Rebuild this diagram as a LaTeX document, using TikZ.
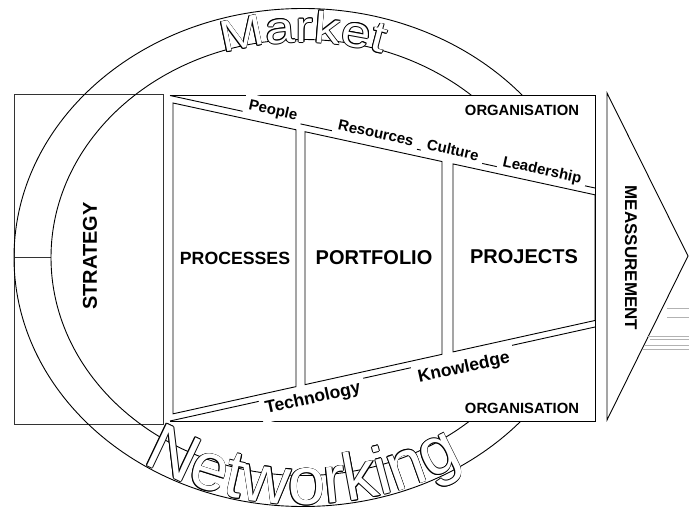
\documentclass[tikz,border=0pt]{standalone}
\usepackage{fontspec}
\setmainfont{Liberation Sans}
\newfontfamily\ringfont{Liberation Sans}
\newfontfamily\marketfont[FakeStretch=1.2]{Liberation Sans}
\usetikzlibrary{decorations.text}
\begin{document}
\begin{tikzpicture}[x=1pt,y=-1pt,line width=0.9pt,
  tag/.style={fill=white,inner sep=5pt,font=\bfseries\fontsize{15}{15}\selectfont},
  lowtag/.style={tag,font=\bfseries\fontsize{17.5}{17.5}\selectfont},
  org/.style={font=\bfseries\fontsize{14.8}{14.8}\selectfont},
  big/.style={font=\bfseries\fontsize{20}{20}\selectfont},
  market/.style={decorate,decoration={text along path,text align=center,text color=#1,
    text={|\marketfont\fontsize{44}{44}\selectfont|Market}}},
  networking/.style={decorate,decoration={text along path,text align=center,text color=#1,
    text={|\ringfont\fontsize{67}{67}\selectfont|Networking}}}]
\useasboundingbox (0,0) rectangle (689,508);
% strategy block and the ring
\draw[black!80] (14,94) rectangle (163,424);
\draw[black!80] (14,257.5) -- (51,257.5);
\draw (303,257.5) ellipse [x radius=289, y radius=249];
\draw (303,257.5) ellipse [x radius=252, y radius=218];
\node[big,rotate=90] (strategy) at (90,256) {STRATEGY};
% organisation frame
\fill[white] (170,95) rectangle (595,421);
\draw (170,95) -- (595,95) -- (595,421) -- (170,421);
\draw (170,95.5) -- (595,188);
\draw (170,421) -- (595,327);
\node[tag,rotate=-12.3] (people) at (273,111) {People};
\node[tag,rotate=-12.3] (resources) at (376,133) {Resources};
\node[tag,rotate=-12.3] (culture) at (453,150) {Culture};
\node[tag,rotate=-12.3] (leadership) at (542,171) {Leadership};
\node[lowtag,rotate=12.5] (technology) at (313,399) {Technology};
\node[lowtag,rotate=12.5] (knowledge) at (464,368) {Knowledge};
\node[org] (orgtop) at (522,110) {ORGANISATION};
\node[org] (orgbot) at (522,408) {ORGANISATION};
\foreach \l/\r in {173/296,305/442,453/595}
  \draw (\l,{103+.2176*(\l-173)}) -- (\r,{103+.2176*(\r-173)})
     -- (\r,{414.5-.2212*(\r-170)}) -- (\l,{414.5-.2212*(\l-170)}) -- cycle;
\node[big,font=\bfseries\fontsize{17.7}{17.7}\selectfont] (processes) at (235,258) {PROCESSES};
\node[big] (portfolio) at (374,258) {PORTFOLIO};
\node[big] (projects) at (524,257) {PROJECTS};
% measurement arrow
\draw (607,93) -- (688,256) -- (607,420) -- cycle;
\node[font=\bfseries\fontsize{17}{17}\selectfont,rotate=-90] (measure) at (631,258) {MEASSUREMENT};
\foreach \y/\x in {308/667,317/667,336/647,339/650,345/645,349/643}
  \draw[black!30,line width=0.6pt] (\x,\y) -- (689,\y);
% ring words: black copies around, white copy on top
\foreach \a in {0,45,...,315} {
  \path[shift={(\a:0.7pt)},market=black]
    (303,257.5) ++(200:249 and 215) arc[start angle=200,end angle=340,x radius=249,y radius=215];
  \path[shift={(\a:0.7pt)},networking=black]
    (303,257.5) ++(150:287 and 247) arc[start angle=150,end angle=30,x radius=287,y radius=247];
}
\path[market=white]
  (303,257.5) ++(200:249 and 215) arc[start angle=200,end angle=340,x radius=249,y radius=215];
\path[networking=white]
  (303,257.5) ++(150:287 and 247) arc[start angle=150,end angle=30,x radius=287,y radius=247];
\end{tikzpicture}
\end{document}
